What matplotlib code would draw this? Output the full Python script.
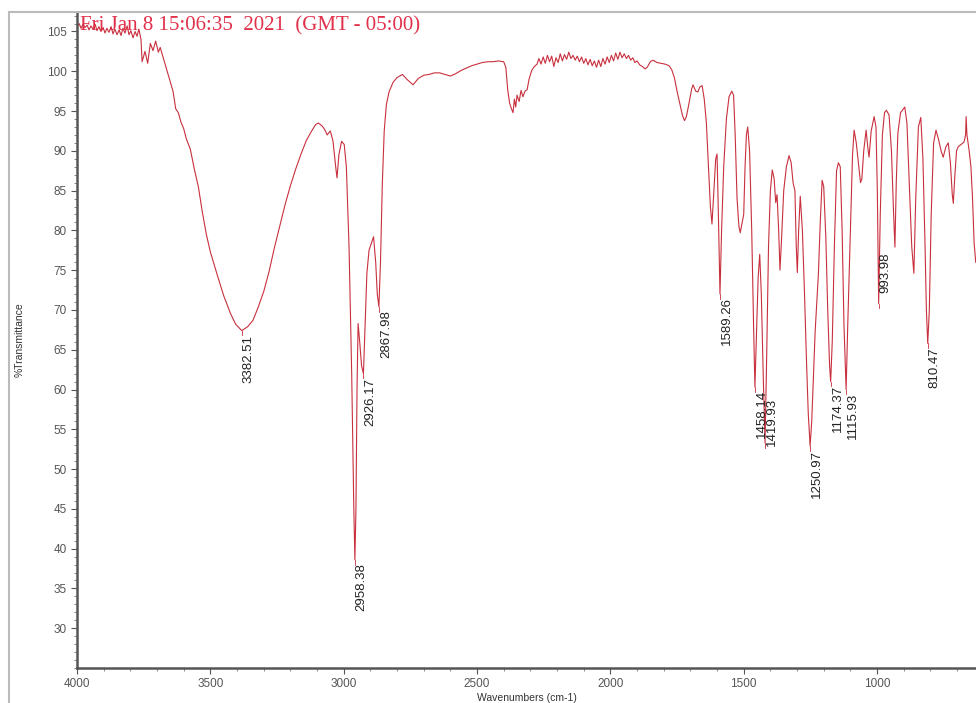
import numpy as np
import matplotlib
matplotlib.use("Agg")
import matplotlib.pyplot as plt
from matplotlib.lines import Line2D
from matplotlib.ticker import MultipleLocator

# spectrum, (wavenumber cm-1, %T), split by region
noisy_baseline = [
    (4000, 105.6), (3992, 106.0), (3985, 105.4), (3978, 105.9), (3970, 105.5),
    (3962, 105.8), (3955, 105.2), (3948, 105.7), (3940, 105.3), (3932, 105.9),
    (3925, 105.1), (3918, 105.6), (3910, 105.0), (3902, 105.5), (3895, 104.8),
    (3888, 105.4), (3880, 104.9), (3872, 105.6), (3865, 104.7), (3858, 105.3),
    (3850, 104.6), (3842, 105.2), (3835, 104.5), (3828, 105.4), (3820, 104.8),
    (3812, 105.7), (3805, 104.6), (3798, 105.1), (3790, 104.2), (3782, 105.0),
    (3775, 104.4), (3768, 105.3), (3760, 104.0),
]
oh_band = [
    (3756, 101.2), (3745, 102.5), (3735, 101.0), (3725, 103.5), (3715, 102.6),
    (3705, 103.8), (3695, 102.4), (3688, 103.0), (3675, 101.5), (3660, 99.8),
    (3650, 98.6), (3640, 97.5), (3630, 95.3), (3620, 94.8), (3610, 93.6),
    (3600, 92.8), (3590, 91.5), (3575, 90.2), (3560, 87.7), (3545, 85.5),
    (3530, 82.3), (3515, 79.5), (3500, 77.3), (3475, 74.5), (3450, 71.8),
    (3425, 69.6), (3405, 68.2), (3382, 67.4), (3360, 67.9), (3340, 68.7),
    (3320, 70.4), (3300, 72.3), (3280, 74.8), (3260, 77.8), (3240, 80.5),
    (3220, 83.2), (3200, 85.6), (3180, 87.7), (3160, 89.6), (3140, 91.3),
    (3120, 92.5), (3105, 93.3), (3095, 93.5), (3080, 93.1), (3070, 92.6),
    (3062, 92.0), (3050, 92.5), (3040, 91.2), (3030, 88.0), (3025, 86.6),
    (3018, 89.5), (3008, 91.2), (2998, 90.8),
]
ch_band = [
    (2990, 88.0), (2980, 78.0), (2970, 62.0), (2962, 45.0), (2958, 38.6),
    (2954, 45.0), (2950, 60.0), (2946, 68.3), (2940, 66.0), (2933, 63.0),
    (2926, 62.0), (2920, 68.0), (2913, 74.6), (2905, 77.5), (2895, 78.5),
    (2888, 79.2), (2880, 76.0), (2874, 72.0), (2868, 70.4), (2862, 76.0),
    (2855, 86.0), (2848, 92.5), (2840, 95.8), (2830, 97.4), (2815, 98.6),
    (2800, 99.2), (2780, 99.6), (2760, 98.9), (2740, 98.3), (2720, 99.1),
    (2700, 99.5), (2680, 99.6), (2660, 99.8), (2640, 99.8), (2620, 99.6),
    (2600, 99.4), (2580, 99.7), (2560, 100.1), (2540, 100.4), (2520, 100.7),
    (2500, 100.9), (2480, 101.1), (2460, 101.2), (2440, 101.2), (2420, 101.3),
    (2400, 101.2), (2392, 100.5), (2385, 97.7), (2378, 96.0), (2370, 95.2),
    (2365, 94.8), (2360, 96.5), (2355, 95.5), (2350, 97.0), (2342, 96.2),
    (2335, 97.6), (2328, 96.8), (2320, 97.5), (2312, 97.7), (2305, 99.0),
    (2295, 100.1), (2285, 100.6), (2275, 100.9),
]
mid_noise = [
    (2268, 101.6), (2260, 100.9), (2252, 101.8), (2244, 101.0), (2236, 102.0),
    (2228, 101.2), (2220, 101.9), (2212, 100.6), (2204, 101.7), (2196, 101.1),
    (2188, 102.2), (2180, 101.3), (2172, 102.1), (2164, 101.5), (2156, 102.4),
    (2148, 101.6), (2140, 102.0), (2132, 101.4), (2124, 101.9), (2116, 101.2),
    (2108, 101.8), (2100, 101.0), (2092, 101.6), (2084, 100.8), (2076, 101.5),
    (2068, 100.7), (2060, 101.3), (2052, 100.5), (2044, 101.4), (2036, 100.6),
    (2028, 101.6), (2020, 100.9), (2012, 101.8), (2004, 101.1), (1996, 102.0),
    (1988, 101.3), (1980, 102.3), (1972, 101.5), (1964, 102.4), (1956, 101.7),
    (1948, 102.2), (1940, 101.6), (1932, 102.0), (1924, 101.4), (1916, 101.7),
    (1908, 101.1), (1900, 101.3), (1890, 100.8), (1880, 100.6), (1870, 100.3),
    (1862, 100.5), (1850, 101.2), (1840, 101.4), (1825, 101.1), (1810, 101.0),
    (1795, 100.9), (1780, 100.7), (1770, 100.2),
]
fingerprint_hi = [
    (1760, 99.2), (1750, 97.5), (1740, 96.0), (1730, 94.5), (1722, 93.8),
    (1715, 94.3), (1705, 96.0), (1695, 97.8), (1690, 98.3), (1680, 97.5),
    (1672, 97.4), (1665, 98.0), (1656, 98.2), (1648, 96.5), (1640, 93.5),
    (1632, 88.0), (1625, 83.0), (1619, 80.8), (1612, 85.0), (1605, 89.0),
    (1600, 89.6), (1595, 82.0), (1589, 72.0), (1583, 80.0), (1575, 88.0),
    (1565, 94.0), (1555, 96.8), (1545, 97.5), (1538, 97.0), (1532, 92.0),
    (1525, 84.0), (1518, 80.5), (1513, 79.7), (1507, 80.8), (1500, 82.0),
    (1495, 88.0), (1490, 92.0), (1485, 93.0), (1478, 90.0), (1470, 80.0),
    (1463, 68.0), (1458, 60.3), (1453, 66.0), (1446, 74.0), (1440, 77.0),
    (1434, 72.0), (1427, 62.0), (1420, 53.3), (1414, 64.0), (1407, 78.0),
    (1400, 85.0), (1393, 87.6), (1386, 86.5), (1380, 83.5), (1375, 84.5),
    (1369, 80.0), (1364, 75.0), (1358, 79.0), (1350, 85.0), (1340, 88.0),
    (1330, 89.4), (1322, 88.5), (1315, 86.0), (1308, 85.0), (1303, 78.0),
    (1299, 74.7), (1294, 80.0), (1288, 84.3), (1280, 80.0), (1272, 72.0),
    (1265, 64.0), (1258, 57.0), (1251, 52.9), (1245, 56.0), (1238, 62.0),
    (1232, 67.4), (1225, 71.5), (1220, 74.5), (1213, 81.0), (1206, 86.3),
    (1200, 85.5), (1192, 79.0), (1185, 70.0), (1178, 63.0), (1174, 61.0),
    (1168, 66.0), (1160, 78.0), (1152, 87.5), (1145, 88.5), (1138, 88.0),
    (1131, 80.0), (1124, 68.0), (1116, 60.0), (1110, 68.0),
]
fingerprint_lo = [
    (1100, 80.0), (1092, 89.5), (1086, 92.6), (1078, 91.0), (1070, 88.5),
    (1062, 86.0), (1057, 86.5), (1050, 90.0), (1041, 92.6), (1035, 90.5),
    (1030, 89.2), (1022, 92.5), (1011, 94.3), (1004, 93.0), (999, 85.0),
    (994, 70.8), (988, 82.0), (980, 92.0), (972, 94.8), (965, 95.1),
    (955, 94.5), (946, 90.0), (939, 83.0), (933, 77.9), (928, 86.0),
    (922, 92.2), (912, 94.8), (896, 95.5), (888, 93.5), (878, 85.0),
    (870, 78.0), (862, 74.6), (855, 84.0), (845, 93.0), (836, 94.2),
    (828, 89.0), (820, 78.0), (815, 70.0), (810, 65.8), (804, 70.0),
    (797, 82.0), (788, 91.0), (779, 92.6), (770, 91.5), (760, 90.0),
    (752, 89.2), (742, 90.5), (733, 91.0), (725, 88.5), (718, 84.5),
    (714, 83.4), (709, 86.5), (702, 90.0), (696, 90.5), (685, 90.8),
    (674, 91.1), (668, 92.0), (666, 94.3), (663, 92.0), (655, 90.1),
    (648, 88.0), (642, 84.0), (636, 78.4), (630, 76.0),
]

# labelled peaks: position, minimum, top of the label text (%T)
peak_wn = [3382.51, 2958.38, 2926.17, 2867.98, 1589.26, 1458.14, 1419.93,
           1250.97, 1174.37, 1115.93, 993.98, 810.47]
peak_min = [67.4, 38.6, 62.0, 70.4, 72.0, 60.3, 53.3, 52.9, 61.0, 60.0, 70.8, 65.8]
label_top = [66.8, 38.2, 61.4, 70.0, 71.6, 59.9, 59.0, 52.4, 60.6, 59.6, 77.2, 65.3]

stamp = "Fri Jan 8 15:06:35  2021  (GMT - 05:00)"

spectrum = np.array(noisy_baseline + oh_band + ch_band + mid_noise
                    + fingerprint_hi + fingerprint_lo)
wn, trans = spectrum[:, 0], spectrum[:, 1]

W, H = 976, 703
fig = plt.figure(figsize=(W / 100, H / 100), dpi=100)
ax = fig.add_axes([77 / W, 1 - 668 / H, 1 - 77 / W, (668 - 12) / H])

ax.plot(wn, trans, color="#c8303e", lw=0.8)
ax.set_xlim(4000, 629)
ax.set_ylim(25, 107.45)

for x, ymin, ytop, in zip(peak_wn, peak_min, label_top):
    ax.plot([x, x], [ymin, ymin - 0.6], color="#c8303e", lw=0.6)
    ax.text(x - 26, ytop, f"{x:.2f}", rotation=90, ha="center", va="top",
            fontsize=9.5, color="#222222", family="Liberation Sans")

ax.xaxis.set_major_locator(MultipleLocator(500))
ax.xaxis.set_minor_locator(MultipleLocator(100))
ax.yaxis.set_minor_locator(MultipleLocator(1))
ax.set_yticks(np.arange(30, 106, 5))
ax.tick_params(which="major", direction="out", length=4, width=0.8,
               color="#555555", labelcolor="#555555", labelsize=8.5)
ax.tick_params(which="minor", direction="out", length=2, width=0.6,
               color="#777777")
for lab in ax.get_xticklabels() + ax.get_yticklabels():
    lab.set_family("Liberation Sans")

for s in ["top", "right"]:
    ax.spines[s].set_visible(False)
for s in ["left", "bottom"]:
    ax.spines[s].set_color("#555555")
    ax.spines[s].set_linewidth(1.8)

ax.set_xlabel("Wavenumbers (cm-1)", fontsize=7.5, color="#333333",
              family="Liberation Sans", labelpad=2)
fig.text(20 / W, 1 - 340 / H, "%Transmittance", rotation=90, ha="center",
         va="center", fontsize=7.5, color="#333333", family="Liberation Sans")

fig.text(80 / W, 1 - 30 / H, stamp, ha="left", va="baseline", fontsize=15,
         color="#e0304a", family="Liberation Serif")

# outer window frame
fig.add_artist(Line2D([9 / W, 9 / W], [0, 1 - 12 / H], color="#bbbbbb", lw=1.5))
fig.add_artist(Line2D([9 / W, 1], [1 - 12 / H, 1 - 12 / H], color="#bbbbbb", lw=1.5))

fig.savefig("out.png", dpi=100)
